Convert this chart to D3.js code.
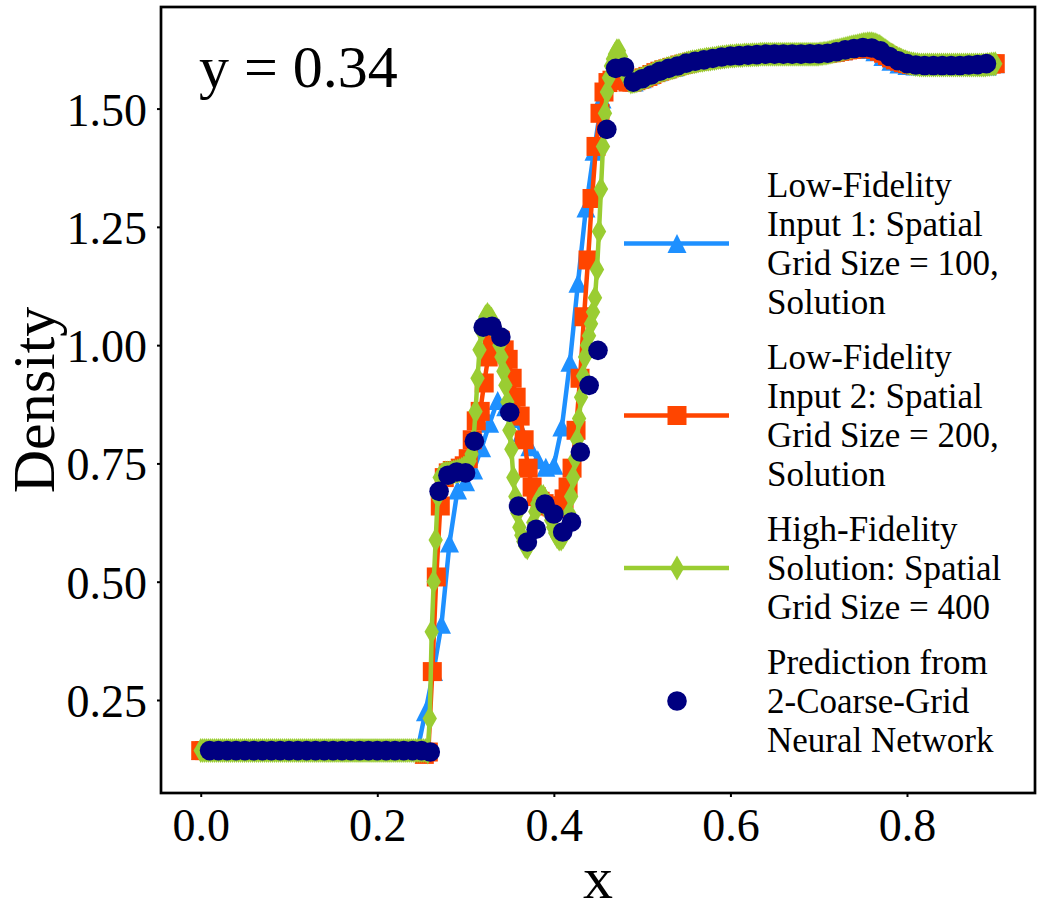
<!DOCTYPE html>
<html>
<head>
  <meta charset="utf-8">
  <title>Density at y = 0.34</title>
  <script src="https://d3js.org/d3.v7.min.js"></script>
  <style>
    body { margin: 0; background: #fff; }
    text { font-family: "Liberation Serif", "Times New Roman", serif; fill: #000; }
  </style>
</head>
<body>
<script>
  // Grid sizes of each series (x runs from 0 to 0.9 on a uniform grid).
  const xMax = 0.9;

  // Low-fidelity input 1, 100 grid points.
  const blueY = [
    0.143,0.143,0.143,0.143,0.143,0.143,0.143,0.143,0.143,0.143,
    0.143,0.143,0.143,0.143,0.143,0.143,0.143,0.143,0.143,0.143,
    0.143,0.143,0.143,0.143,0.143,0.143,0.143,0.143,
    0.225,0.31,0.41,0.582,0.694,0.711,0.736,0.783,0.835,0.883,
    0.87,0.845,0.815,0.785,0.758,0.742,0.746,0.827,0.964,1.131,
    1.29,1.41,1.52,1.565,1.575,1.56,
    1.556,1.563,1.571,1.578,1.583,1.588,1.593,1.598,1.601,1.604,
    1.606,1.609,1.611,1.612,1.613,1.614,1.614,
    1.615,1.615,1.615,1.615,1.615,
    1.616,1.616,1.617,1.619,1.622,1.625,1.626,1.625,1.62,1.61,1.6,1.594,1.591,
    1.59,1.59,1.59,1.59,1.59,1.59,1.59,1.59,1.59,1.59,
    1.595
  ];

  // Low-fidelity input 2, 200 grid points.
  const orangeY = [
    0.143,0.143,0.143,0.143,0.143,0.143,0.143,0.143,0.143,0.143,
    0.143,0.143,0.143,0.143,0.143,0.143,0.143,0.143,0.143,0.143,
    0.143,0.143,0.143,0.143,0.143,0.143,0.143,0.143,0.143,0.143,
    0.143,0.143,0.143,0.143,0.143,0.143,0.143,0.143,0.143,0.143,
    0.143,0.143,0.143,0.143,0.143,0.143,0.143,0.143,0.143,0.143,
    0.143,0.143,0.143,0.143,0.143,0.143,
    0.135,0.14,0.31,0.51,0.66,0.72,0.73,0.735,0.735,0.74,
    0.745,0.76,0.80,0.84,0.86,0.92,0.975,1.0,1.01,1.01,
    0.99,0.97,0.93,0.89,0.85,0.80,0.74,0.70,0.68,0.67,
    0.665,0.66,0.658,0.655,0.66,0.675,0.70,0.74,0.82,0.93,
    1.06,1.18,1.31,1.42,1.49,1.535,1.555,1.56,1.565,1.565,
    1.56,1.556,1.556,
    1.559,1.562,1.565,1.568,1.572,1.576,1.579,1.582,1.584,1.587,
    1.589,1.592,1.594,1.596,1.598,1.600,1.601,1.603,1.604,1.605,
    1.607,1.608,1.609,1.610,1.611,1.611,1.612,1.612,1.613,1.613,
    1.614,
    1.615,1.615,1.615,1.615,1.615,1.615,1.615,1.615,1.615,1.615,
    1.615,1.615,1.615,1.615,1.615,
    1.616,1.616,1.617,1.618,1.619,1.621,1.622,1.624,1.625,1.626,
    1.627,1.628,1.628,1.627,1.625,1.621,1.617,1.612,1.607,1.603,
    1.600,1.597,1.595,1.593,1.592,
    1.591,1.591,1.591,1.591,1.591,1.591,1.591,1.591,1.591,1.591,
    1.591,1.591,1.591,1.591,1.591,1.591,1.591,
    1.592,1.594,1.595
  ];

  // High-fidelity solution, 400 grid points.
  const greenY = [
    0.143,0.143,0.143,0.143,0.143,0.143,0.143,0.143,0.143,0.143,
    0.143,0.143,0.143,0.143,0.143,0.143,0.143,0.143,0.143,0.143,
    0.143,0.143,0.143,0.143,0.143,0.143,0.143,0.143,0.143,0.143,
    0.143,0.143,0.143,0.143,0.143,0.143,0.143,0.143,0.143,0.143,
    0.143,0.143,0.143,0.143,0.143,0.143,0.143,0.143,0.143,0.143,
    0.143,0.143,0.143,0.143,0.143,0.143,0.143,0.143,0.143,0.143,
    0.143,0.143,0.143,0.143,0.143,0.143,0.143,0.143,0.143,0.143,
    0.143,0.143,0.143,0.143,0.143,0.143,0.143,0.143,0.143,0.143,
    0.143,0.143,0.143,0.143,0.143,0.143,0.143,0.143,0.143,0.143,
    0.143,0.143,0.143,0.143,0.143,0.143,0.143,0.143,0.143,0.143,
    0.143,0.143,0.143,0.143,0.143,0.143,0.143,0.143,0.143,0.143,
    0.143,0.143,0.143,0.143,
    0.14,0.211,0.394,0.50,0.588,0.68,0.72,
    0.725,0.728,0.73,0.73,0.73,0.731,0.732,0.733,0.734,0.735,
    0.737,0.74,0.743,0.748,0.755,
    0.77,0.80,0.86,0.93,0.99,1.03,1.05,1.06,1.065,1.06,
    1.055,1.045,1.035,1.02,1.00,0.975,0.945,0.915,0.88,0.82,
    0.78,0.72,0.68,0.645,0.615,0.598,0.585,0.575,0.572,0.58,
    0.60,0.625,0.648,0.665,0.675,0.68,0.68,0.672,0.66,0.645,
    0.63,0.615,0.603,0.595,0.59,0.59,0.595,0.605,0.62,0.645,
    0.68,0.72,0.76,0.80,0.845,0.89,0.935,0.975,1.0,1.02,
    1.045,1.07,1.10,1.16,1.24,1.33,1.42,1.49,1.535,1.565,
    1.59,1.605,1.615,1.622,1.622,1.61,1.595,1.58,1.567,1.56,
    1.556,1.557,1.558,1.559,1.561,1.562,1.564,1.566,1.567,1.569,
    1.571,1.573,1.575,1.577,1.578,1.580,1.581,1.582,1.584,1.585,
    1.586,1.587,1.588,1.590,1.591,1.592,1.593,1.594,1.596,1.597,
    1.598,1.599,1.599,1.600,1.601,1.602,1.602,1.603,1.604,1.604,
    1.605,1.606,1.606,1.607,1.608,1.608,1.609,1.609,1.610,1.610,
    1.611,1.611,1.611,1.612,1.612,1.612,1.612,1.613,1.613,1.613,
    1.613,1.614,1.614,1.614,1.614,
    1.615,1.615,1.615,1.615,1.615,1.615,1.615,1.615,1.615,1.615,
    1.615,1.615,1.615,1.615,1.615,1.615,1.615,1.615,1.615,1.615,
    1.615,1.615,1.615,1.615,1.615,1.615,1.615,1.615,1.615,1.615,
    1.616,1.616,1.617,1.617,1.618,1.619,1.620,1.621,1.622,1.623,
    1.624,1.625,1.626,1.627,1.628,1.629,1.630,1.631,1.632,1.633,
    1.634,1.635,1.636,1.636,1.637,1.637,1.637,1.636,1.635,1.633,
    1.631,1.628,1.625,1.622,1.619,1.616,1.613,1.611,1.608,1.606,
    1.604,1.602,1.600,1.599,1.597,1.596,1.595,1.594,1.593,1.593,
    1.592,1.592,1.592,1.592,1.592,1.592,1.592,1.592,1.592,1.592,
    1.592,1.592,1.592,1.592,1.592,1.592,1.592,1.592,1.592,1.592,
    1.592,1.592,1.592,1.592,1.592,1.592,1.592,1.592,1.592,1.592,
    1.592,1.592,1.592,1.592,
    1.593,1.593,1.594,1.594,1.595
  ];

  // Neural network prediction, sampled at x = 0.01 ... 0.89.
  const predX = d3.range(1, 90).map(i => i / 100);
  const predY = [
    0.143,0.143,0.143,0.143,0.143,0.143,0.143,0.143,0.143,0.143,
    0.143,0.143,0.143,0.143,0.143,0.143,0.143,0.143,0.143,0.143,
    0.143,0.143,0.143,0.143,0.143,0.14,
    0.691,0.725,0.732,0.730,0.797,1.038,1.040,1.017,0.858,0.660,
    0.584,0.611,0.664,0.643,0.605,0.626,0.774,0.915,0.989,1.456,
    1.585,1.588,1.556,
    1.563,1.571,1.579,1.585,1.590,1.596,1.600,1.603,1.606,1.609,
    1.611,1.612,1.613,1.614,1.615,1.615,1.615,1.615,1.615,1.616,
    1.616,1.617,1.620,1.624,1.627,1.629,1.628,1.622,1.610,1.601,
    1.595,1.592,1.591,1.591,1.591,1.591,1.591,1.592,1.593,1.595
  ];

  const xTicks = [0, 0.2, 0.4, 0.6, 0.8];
  const yTicks = [0.25, 0.5, 0.75, 1.0, 1.25, 1.5];

  const legendLabels = [
    ["Low-Fidelity", "Input 1: Spatial", "Grid Size = 100,", "Solution"],
    ["Low-Fidelity", "Input 2: Spatial", "Grid Size = 200,", "Solution"],
    ["High-Fidelity", "Solution: Spatial", "Grid Size = 400"],
    ["Prediction from", "2-Coarse-Grid", "Neural Network"]
  ];

  // Chart size and plot box.
  const width = 1042, height = 913;
  const box = { left: 161, right: 1035, top: 7, bottom: 793 };

  const svg = d3.select("body").append("svg")
      .attr("width", width)
      .attr("height", height);

  const x = d3.scaleLinear().domain([-0.045, 0.945]).range([box.left, box.right]);
  const y = d3.scaleLinear().domain([0.0534, 1.7147]).range([box.bottom, box.top]);

  const gridX = n => d3.range(n).map(i => i * xMax / (n - 1));

  const series = [
    { xs: gridX(blueY.length), ys: blueY, color: "#1E90FF", marker: "tri", line: true },
    { xs: gridX(orangeY.length), ys: orangeY, color: "#FF4500", marker: "sq", line: true },
    { xs: gridX(greenY.length), ys: greenY, color: "#9ACD32", marker: "dia", line: true },
    { xs: predX, ys: predY, color: "#000080", marker: "dot", line: false }
  ];

  // marker shapes, drawn around (0,0)
  function markerPath(type) {
    if (type === "tri") return "M0,-9.5L9.5,9.5L-9.5,9.5Z";
    if (type === "sq") return "M-9.5,-9.5H9.5V9.5H-9.5Z";
    if (type === "dia") return "M0,-12.5L7.2,0L0,12.5L-7.2,0Z";
    return d3.symbol().type(d3.symbolCircle).size(Math.PI * 9.8 * 9.8)();
  }

  const plot = svg.append("g");
  plot.append("clipPath").attr("id", "clip")
    .append("rect")
      .attr("x", box.left).attr("y", box.top)
      .attr("width", box.right - box.left).attr("height", box.bottom - box.top);

  const lineGen = d3.line().x(d => x(d[0])).y(d => y(d[1]));

  series.forEach(s => {
    const pts = s.xs.map((v, i) => [v, s.ys[i]]);
    const g = plot.append("g").attr("clip-path", "url(#clip)");
    if (s.line) {
      g.append("path")
        .attr("d", lineGen(pts))
        .attr("fill", "none")
        .attr("stroke", s.color)
        .attr("stroke-width", 4.5)
        .attr("stroke-linejoin", "round");
    }
    g.selectAll("path.m")
      .data(pts)
      .enter().append("path")
        .attr("class", "m")
        .attr("d", markerPath(s.marker))
        .attr("transform", d => `translate(${x(d[0])},${y(d[1])})`)
        .attr("fill", s.color);
  });

  // frame
  svg.append("rect")
    .attr("x", box.left).attr("y", box.top)
    .attr("width", box.right - box.left).attr("height", box.bottom - box.top)
    .attr("fill", "none").attr("stroke", "#000").attr("stroke-width", 2.7);

  // axes
  const xAxis = svg.append("g")
    .attr("transform", `translate(0,${box.bottom})`)
    .call(d3.axisBottom(x).tickValues(xTicks).tickFormat(d3.format(".1f")).tickSize(4).tickPadding(8));
  const yAxis = svg.append("g")
    .attr("transform", `translate(${box.left},0)`)
    .call(d3.axisLeft(y).tickValues(yTicks).tickFormat(d3.format(".2f")).tickSize(4).tickPadding(10));

  [xAxis, yAxis].forEach(a => {
    a.select(".domain").remove();
    a.selectAll(".tick line").attr("stroke", "#000").attr("stroke-width", 2);
    a.selectAll(".tick text")
      .style("font-family", '"Liberation Serif", "Times New Roman", serif')
      .style("font-size", "46px")
      .attr("fill", "#000");
  });
  yAxis.selectAll(".tick text").attr("dy", "0.36em");
  xAxis.selectAll(".tick text").attr("dy", "0.78em");

  // axis titles
  svg.append("text")
    .attr("x", (box.left + box.right) / 2).attr("y", 898)
    .attr("text-anchor", "middle")
    .style("font-size", "60px")
    .text("x");

  svg.append("text")
    .attr("transform", `translate(54,${(box.top + box.bottom) / 2}) rotate(-90)`)
    .attr("text-anchor", "middle")
    .style("font-size", "60px")
    .text("Density");

  svg.append("text")
    .attr("x", 199).attr("y", 87)
    .style("font-size", "60px")
    .text("y = 0.34");

  // legend
  const leg = svg.append("g");
  const lineStep = 39, entryGap = 16;
  let base = 197;
  legendLabels.forEach((lines, k) => {
    const s = series[k];
    const hy = base + (lines.length - 1) * lineStep / 2 - 12;
    if (s.line) {
      leg.append("line")
        .attr("x1", 624).attr("x2", 729).attr("y1", hy).attr("y2", hy)
        .attr("stroke", s.color).attr("stroke-width", 4.5);
    }
    leg.append("path")
      .attr("d", markerPath(s.marker))
      .attr("transform", `translate(677,${hy})`)
      .attr("fill", s.color);
    lines.forEach((t, i) => {
      leg.append("text")
        .attr("x", 767).attr("y", base + i * lineStep)
        .style("font-size", "35px")
        .text(t);
    });
    base += lines.length * lineStep + entryGap;
  });
</script>
</body>
</html>
